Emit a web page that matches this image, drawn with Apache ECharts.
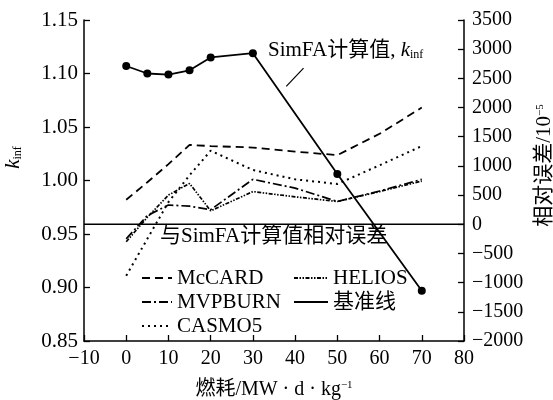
<!DOCTYPE html>
<html>
<head>
<meta charset="utf-8">
<script src="https://cdn.jsdelivr.net/npm/echarts@6/dist/echarts.min.js"></script>
<style>
html, body { margin: 0; padding: 0; background: #fff; }
#main { width: 553px; height: 400px; }
</style>
</head>
<body>
<div id="main"></div>
<script>
// burnup points
const burnup = [0, 5, 10, 15, 20, 30, 40, 50, 60, 70];
const simfaBurnup = [0, 5, 10, 15, 20, 30, 50, 70];
// SimFA kinf (left axis)
const simfaKinf = [1.107, 1.100, 1.099, 1.103, 1.115, 1.119, 1.006, 0.897];
// relative error, 1e-5 (right axis)
const mccard = [420, 720, 1030, 1360, 1340, 1315, 1245, 1185, 1550, 2000];
const helios = [-300, 120, 500, 700, 230, 560, 470, 390, 560, 740];
const mvpburn = [-250, 150, 330, 310, 250, 770, 620, 390, 570, 770];
const casmo5 = [-880, -250, 380, 840, 1260, 930, 770, 690, 1010, 1340];
const baseX = [-10, 80];
const baseY = [0, 0];

const FONT = '"Liberation Serif", "Noto Sans CJK SC", serif';

function pairs(xs, ys) {
  return xs.map((x, i) => [x, ys[i]]);
}
function minus(v) {
  return String(v).replace('-', '\u2212');
}

const chart = echarts.init(document.getElementById('main'));

function errSeries(name, data, type, width) {
  return {
    name: name,
    type: 'line',
    yAxisIndex: 1,
    symbol: 'none',
    data: pairs(burnup, data),
    lineStyle: { color: '#000', width: width || 1.7, type: type },
    itemStyle: { color: '#000' },
    z: 3
  };
}

const legendText = { fontFamily: FONT, fontSize: 21, color: '#000', lineHeight: 22 };

chart.setOption({
  animation: false,
  textStyle: { fontFamily: FONT },
  grid: { left: 84, right: 89, top: 20, bottom: 59, outerBoundsMode: 'none', containLabel: false },
  xAxis: {
    type: 'value',
    min: -10,
    max: 80,
    interval: 10,
    name: '燃耗/MW · d · kg{sup|−1}',
    nameLocation: 'middle',
    nameGap: 39,
    nameTextStyle: {
      fontFamily: FONT, fontSize: 20, color: '#000',
      rich: { sup: { fontSize: 11, verticalAlign: 'top', fontFamily: FONT, color: '#000' } }
    },
    axisLine: { onZero: false, lineStyle: { color: '#000', width: 1.5 } },
    axisTick: { inside: true, length: 6, lineStyle: { color: '#000', width: 1.3 } },
    axisLabel: { color: '#000', fontSize: 20, fontFamily: FONT, margin: 8, formatter: minus },
    splitLine: { show: false }
  },
  yAxis: [
    {
      type: 'value',
      min: 0.85,
      max: 1.15,
      interval: 0.05,
      name: '{i|k}{s|inf}',
      nameLocation: 'middle',
      nameRotate: 90,
      nameGap: 60,
      nameTextStyle: {
        padding: [0, 0, 0, 46],
        rich: {
          i: { fontFamily: FONT, fontStyle: 'italic', fontSize: 21, color: '#000', verticalAlign: 'bottom' },
          s: { fontFamily: FONT, fontSize: 12, color: '#000', verticalAlign: 'bottom' }
        }
      },
      axisLine: { show: true, onZero: false, lineStyle: { color: '#000', width: 1.5 } },
      axisTick: { inside: true, length: 6, lineStyle: { color: '#000', width: 1.3 } },
      axisLabel: { color: '#000', fontSize: 21, fontFamily: FONT, margin: 6, formatter: v => v.toFixed(2) },
      splitLine: { show: false }
    },
    {
      type: 'value',
      position: 'right',
      min: -2000,
      max: 3500,
      interval: 500,
      name: '相对误差/10{sup|−5}',
      nameLocation: 'middle',
      nameRotate: 90,
      nameGap: 68,
      nameTextStyle: {
        fontFamily: FONT, fontSize: 21, color: '#000',
        padding: [0, 0, 0, 30],
        rich: { sup: { fontSize: 11, verticalAlign: 'top', fontFamily: FONT, color: '#000' } }
      },
      axisLine: { show: true, onZero: false, lineStyle: { color: '#000', width: 1.5 } },
      axisTick: { inside: true, length: 6, lineStyle: { color: '#000', width: 1.3 } },
      axisLabel: { color: '#000', fontSize: 20, fontFamily: FONT, margin: 8, formatter: minus },
      splitLine: { show: false }
    }
  ],
  legend: [
    {
      left: 136, top: 262, orient: 'vertical',
      itemWidth: 30, itemHeight: 14, itemGap: 2,
      itemStyle: { opacity: 0 },
      data: ['McCARD', 'MVPBURN', 'CASMO5'],
      textStyle: legendText,
      selectedMode: false
    },
    {
      left: 288, top: 262, orient: 'vertical',
      itemWidth: 34, itemHeight: 14, itemGap: 2,
      itemStyle: { opacity: 0 },
      data: ['HELIOS', '基准线'],
      textStyle: legendText,
      selectedMode: false
    }
  ],
  graphic: [
    {
      type: 'text', left: 160, top: 226,
      style: { text: '与SimFA计算值相对误差', font: '21px ' + FONT, fill: '#000' }
    },
    {
      type: 'text', left: 268, top: 40,
      style: {
        text: 'SimFA计算值, {i|k}{s|inf}',
        font: '21px ' + FONT, fill: '#000',
        rich: {
          i: { fontFamily: FONT, fontStyle: 'italic', fontSize: 21, fill: '#000', verticalAlign: 'bottom' },
          s: { fontFamily: FONT, fontSize: 12, fill: '#000', verticalAlign: 'bottom' }
        }
      }
    }
  ],
  series: [
    errSeries('McCARD', mccard, [8, 5], 1.8),
    errSeries('MVPBURN', mvpburn, [9, 3, 2, 3], 1.7),
    errSeries('HELIOS', helios, [4, 1.5, 1.5, 1.5, 1.5, 1.5], 1.7),
    errSeries('CASMO5', casmo5, [2, 4], 2),
    {
      name: '基准线',
      type: 'line',
      yAxisIndex: 1,
      symbol: 'none',
      data: pairs(baseX, baseY),
      lineStyle: { color: '#000', width: 1.6, type: 'solid' },
      itemStyle: { color: '#000' },
      z: 2
    },
    {
      name: 'SimFA',
      type: 'line',
      yAxisIndex: 0,
      symbol: 'circle',
      symbolSize: 8,
      data: pairs(simfaBurnup, simfaKinf),
      lineStyle: { color: '#000', width: 1.8 },
      itemStyle: { color: '#000' },
      z: 4,
      markLine: {
        silent: true,
        symbol: 'none',
        label: { show: false },
        lineStyle: { color: '#000', width: 1.2, type: 'solid' },
        data: [[{ coord: [37.9, 1.088] }, { coord: [42.0, 1.105] }]]
      }
    }
  ]
});
</script>
</body>
</html>
